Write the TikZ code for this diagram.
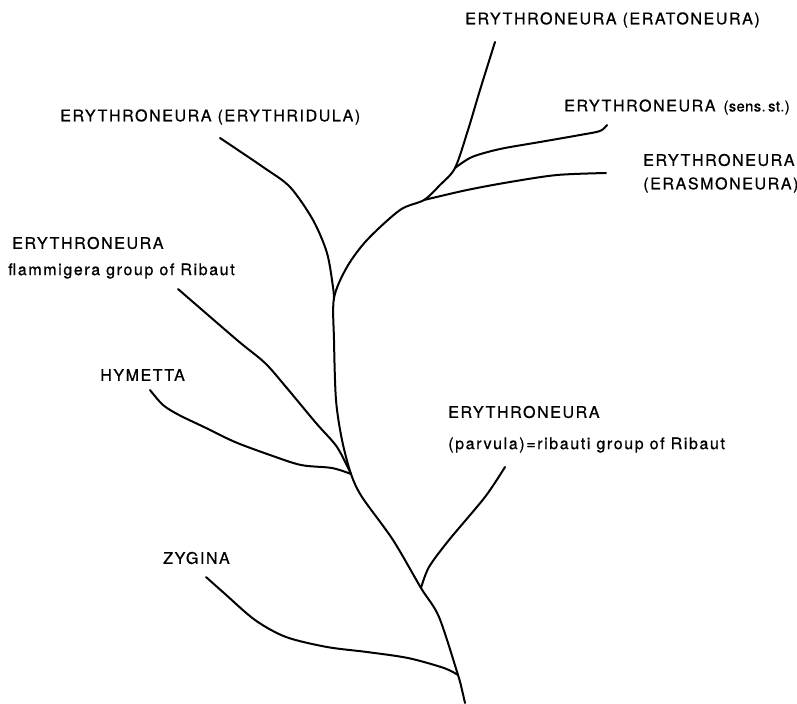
\documentclass[tikz,border=0pt]{standalone}
\usepackage{fontspec}
\setmainfont{TeX Gyre Heros}[LetterSpace=10, FakeBold=0.8]
\newfontfamily\tightfont{TeX Gyre Heros}[LetterSpace=3, FakeBold=0.8]
\begin{document}
\begin{tikzpicture}[x=0.75pt,y=-0.75pt,
		branch/.style={line width=1.5pt, line cap=round, line join=round},
		taxon/.style={anchor=west, inner sep=0, font=\fontsize{12}{14}\selectfont}]
		\useasboundingbox (0,0) rectangle (797,704);
		% labels
		\node (eratoneura) at (465,20) [taxon] {ERYTHRONEURA (ERATONEURA)};
		\node (sensst) at (564,107) [taxon] {ERYTHRONEURA\hspace{0.5em}{\tightfont\fontsize{11}{13}\selectfont(sens.\,st.)}};
		\node (erasmo1) at (643,160) [taxon] {ERYTHRONEURA};
		\node (erasmo2) at (643,185) [taxon] {(ERASMONEURA)};
		\node (erythridula) at (60,117) [taxon] {ERYTHRONEURA (ERYTHRIDULA)};
		\node (flammi1) at (12,243) [taxon] {ERYTHRONEURA};
		\node (flammi2) at (8,271) [taxon] {flammigera group of Ribaut};
		\node (hymetta) at (100,375) [taxon] {HYMETTA};
		\node (parvula1) at (448,412) [taxon] {ERYTHRONEURA};
		\node (parvula2) at (448,445) [taxon] {(parvula)=ribauti group of Ribaut};
		\node (zygina) at (163,558) [taxon] {ZYGINA};
		% tips and forks
		\coordinate (root) at (465,703);
		\coordinate (jzyg) at (458,675);
		\coordinate (jparv) at (421,588);
		\coordinate (jhym) at (351,474);
		\coordinate (jeryd) at (334,298);
		\coordinate (jeras) at (424,200);
		\coordinate (jsens) at (455,168);
		\coordinate (teratone) at (495,42);
		\coordinate (tsens) at (607,125);
		\coordinate (teras) at (606,173);
		\coordinate (teryd) at (220,138);
		\coordinate (tflam) at (178,289);
		\coordinate (thym) at (150,390);
		\coordinate (tparv) at (505,467);
		\coordinate (tzyg) at (206,577);
		% trunk
		\draw[branch] plot[smooth, tension=0.5] coordinates {(root) (462,690) (jzyg) (439,617) (jparv) (393,540) (362,497) (jhym) (342,440) (336,400) (334,340) (jeryd) (347,267) (367,240) (400,210) (jeras) (440,185) (jsens) (468,130) (480,90) (teratone)};
		% side branches
		\draw[branch] plot[smooth, tension=0.5] coordinates {(jsens) (472,157) (500,149) (540,142) (580,135) (600,131) (tsens)};
		\draw[branch] plot[smooth, tension=0.5] coordinates {(jeras) (467,190) (510,182) (557,175) (teras)};
		\draw[branch] plot[smooth, tension=0.5] coordinates {(teryd) (263,167) (290,187) (313,220) (327,253) (333,287) (jeryd)};
		\draw[branch] plot[smooth, tension=0.5] coordinates {(tflam) (237,340) (265,363) (286,387) (316,423) (337,447) (jhym)};
		\draw[branch] plot[smooth, tension=0.5] coordinates {(thym) (163,405) (179,415) (204,427) (235,442) (270,455) (301,465) (332,468) (jhym)};
		\draw[branch] plot[smooth, tension=0.5] coordinates {(tparv) (485,497) (449,540) (429,567) (jparv)};
		\draw[branch] plot[smooth, tension=0.5] coordinates {(tzyg) (224,593) (255,620) (286,637) (327,647) (367,652) (408,658) (444,668) (jzyg)};
	\end{tikzpicture}
\end{document}
